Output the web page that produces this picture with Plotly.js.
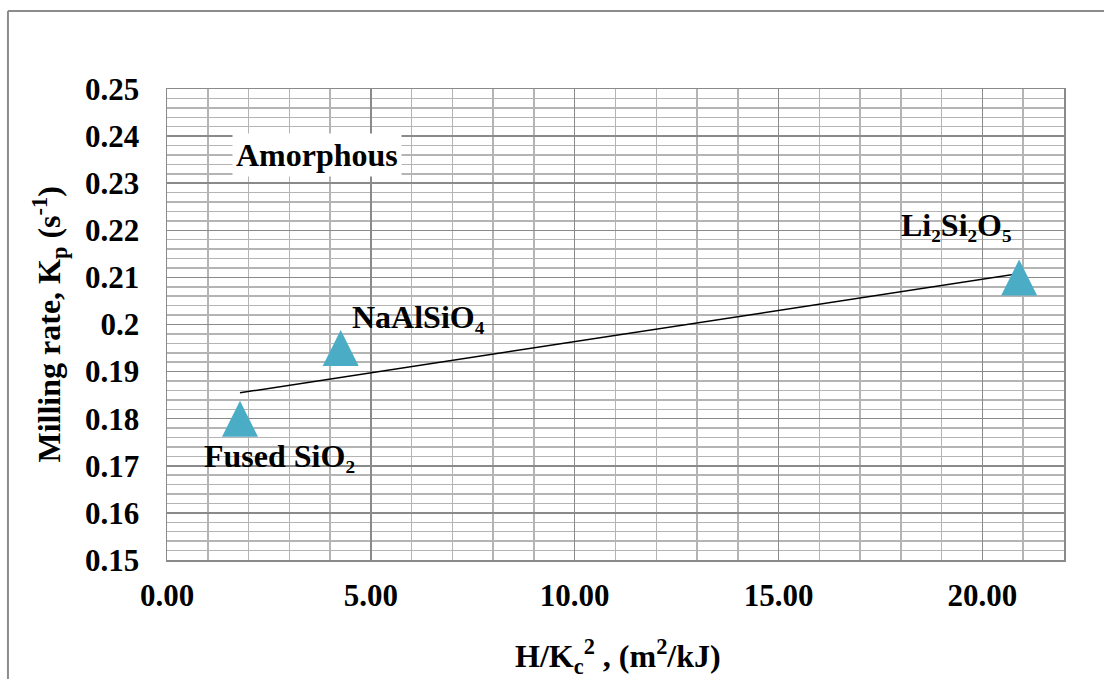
<!DOCTYPE html>
<html>
<head>
<meta charset="utf-8">
<script src="https://cdn.plot.ly/plotly-3.0.1.min.js"></script>
<style>
  html, body { margin: 0; padding: 0; background: #ffffff; }
  #chart { width: 1104px; height: 679px; }
</style>
</head>
<body>
<div id="chart"></div>
<script>
// ---- data ----
const materials = ["Fused SiO\u2082", "NaAlSiO\u2084", "Li\u2082Si\u2082O\u2085"];
const hOverKc2 = [1.79, 4.26, 20.9];          // H/Kc^2 (m^2/kJ)
const millingRate = [0.18, 0.195, 0.21];      // Kp (s^-1)
const trendX = [1.79, 20.9];
const trendY = [0.1855, 0.2108];
const xTickVals = [0, 5, 10, 15, 20];
const xTickText = ["0.00", "5.00", "10.00", "15.00", "20.00"];
const yTickVals = [0.15, 0.16, 0.17, 0.18, 0.19, 0.2, 0.21, 0.22, 0.23, 0.24, 0.25];
const yTickText = ["0.15", "0.16", "0.17", "0.18", "0.19", "0.2", "0.21", "0.22", "0.23", "0.24", "0.25"];
const groupLabel = "Amorphous";
const groupLabelX = 3.68;
const groupLabelY = 0.236;
const xTitle = "<b>H/K<sub>c</sub><sup>2</sup> , (m<sup>2</sup>/kJ)</b>";
const yTitle = "<b>Milling rate, K<sub>p</sub> (s<sup>-1</sup>)</b>";
// label offsets (px) relative to each point
const labelShiftX = [40, 78, -63];
const labelShiftY = [-37, 31, 52];

const font = "'Liberation Serif', 'Times New Roman', serif";
const markerColor = "#4BACC6";
const minorGrid = "#b4b4b4";
const majorGrid = "#8a8a8a";

const traces = [
  {
    x: trendX, y: trendY, type: "scatter", mode: "lines",
    line: { color: "#000000", width: 1.5 }, hoverinfo: "skip", showlegend: false
  },
  {
    x: hOverKc2, y: millingRate, type: "scatter", mode: "markers",
    marker: { symbol: "arrow-down", angle: 180, size: 36, color: markerColor, standoff: 18, line: { width: 0 } },
    showlegend: false
  }
];

const annotations = materials.map((m, i) => ({
  x: hOverKc2[i], y: millingRate[i], xref: "x", yref: "y",
  text: "<b>" + m + "</b>", showarrow: false,
  xshift: labelShiftX[i], yshift: labelShiftY[i],
  font: { family: font, size: 32, color: "#000000" }
}));
annotations.push({
  x: groupLabelX, y: groupLabelY, xref: "x", yref: "y",
  text: "<b>" + groupLabel + "</b>", showarrow: false,
  bgcolor: "#ffffff", borderpad: 3,
  font: { family: font, size: 32, color: "#000000" }
});
// axis titles
annotations.push({
  x: 0.503, y: -0.205, xref: "paper", yref: "paper", xanchor: "center", yanchor: "middle",
  text: xTitle, showarrow: false, font: { family: font, size: 32, color: "#000000" }
});
annotations.push({
  x: -0.1315, y: 0.5, xref: "paper", yref: "paper", xanchor: "center", yanchor: "middle",
  textangle: -90, text: yTitle, showarrow: false, font: { family: font, size: 32, color: "#000000" }
});

const layout = {
  width: 1104, height: 679,
  margin: { l: 167, r: 40, t: 89, b: 119 },
  paper_bgcolor: "#ffffff", plot_bgcolor: "#ffffff",
  font: { family: font, size: 31, color: "#000000" },
  showlegend: false,
  xaxis: {
    range: [0, 22], tickmode: "array", tickvals: xTickVals, ticktext: xTickText,
    ticks: "", ticklabelstandoff: 7,
    tickfont: { family: font, size: 31, color: "#000000", weight: "bold" },
    showgrid: true, gridcolor: majorGrid, gridwidth: 1.5,
    minor: { tickmode: "linear", tick0: 0, dtick: 1, showgrid: true, gridcolor: minorGrid, gridwidth: 1.5, ticks: "" },
    zeroline: false, showline: true, linecolor: majorGrid, linewidth: 1.5, mirror: true,
    automargin: false, fixedrange: true
  },
  yaxis: {
    range: [0.15, 0.25], tickmode: "array", tickvals: yTickVals, ticktext: yTickText,
    ticks: "", ticklabelstandoff: 20,
    tickfont: { family: font, size: 31, color: "#000000", weight: "bold" },
    showgrid: true, gridcolor: majorGrid, gridwidth: 1.5,
    minor: { tickmode: "linear", tick0: 0.15, dtick: 0.002, showgrid: true, gridcolor: minorGrid, gridwidth: 1.5, ticks: "" },
    zeroline: false, showline: true, linecolor: majorGrid, linewidth: 1.5, mirror: true,
    automargin: false, fixedrange: true
  },
  annotations: annotations,
  shapes: [
    { type: "line", xref: "paper", yref: "paper", x0: -0.1773, x1: -0.1773, y0: -0.26, y1: 1.1656, line: { color: "#8c8c8c", width: 2 } },
    { type: "line", xref: "paper", yref: "paper", x0: -0.1773, x1: 1.05, y0: 1.1656, y1: 1.1656, line: { color: "#8c8c8c", width: 2 } }
  ]
};

Plotly.newPlot("chart", traces, layout, { displayModeBar: false, staticPlot: true });
</script>
</body>
</html>
